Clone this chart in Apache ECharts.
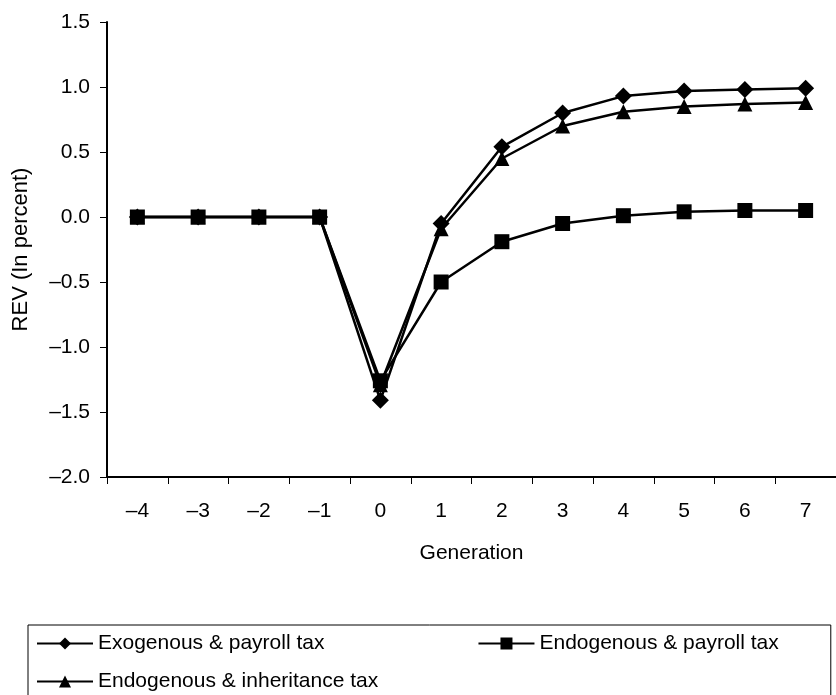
<!DOCTYPE html>
<html>
<head>
<meta charset="utf-8">
<script src="https://cdn.jsdelivr.net/npm/echarts@6/dist/echarts.min.js"></script>
<style>
  html, body { margin: 0; padding: 0; background: #fff; }
  #chart { width: 836px; height: 695px; }
</style>
</head>
<body>
<div id="chart"></div>
<script>
// generations on the x axis
const generations = ['–4', '–3', '–2', '–1', '0', '1', '2', '3', '4', '5', '6', '7']

// REV in percent
const exoPayroll = [0, 0, 0, 0, -1.41, -0.05, 0.54, 0.80, 0.93, 0.97, 0.98, 0.99]
const endoPayroll = [0, 0, 0, 0, -1.26, -0.50, -0.19, -0.05, 0.01, 0.04, 0.05, 0.05]
const endoInheritance = [0, 0, 0, 0, -1.29, -0.09, 0.45, 0.70, 0.81, 0.85, 0.87, 0.88]

const seriesNames = [
  'Exogenous & payroll tax',
  'Endogenous & payroll tax',
  'Endogenous & inheritance tax'
]

const FONT = 'Liberation Sans, Arial, sans-serif'
const ink = '#000'

const chart = echarts.init(document.getElementById('chart'))

function lineSeries(name, data, symbol, size) {
  return {
    name: name,
    type: 'line',
    data: data,
    symbol: symbol,
    symbolSize: size,
    showAllSymbol: true,
    itemStyle: { color: ink },
    lineStyle: { color: ink, width: 2.5 },
    emphasis: { disabled: true },
    animation: false
  }
}

const legendText = { fontFamily: FONT, fontSize: 21, color: ink }

chart.setOption({
  backgroundColor: '#fff',
  animation: false,
  grid: { left: 107, right: -10, top: 22, bottom: 218 },
  xAxis: {
    type: 'category',
    data: generations,
    boundaryGap: true,
    name: 'Generation',
    nameLocation: 'middle',
    nameGap: 66,
    nameTextStyle: { fontFamily: FONT, fontSize: 21, color: ink },
    axisLine: { onZero: false, lineStyle: { color: ink, width: 2 } },
    axisTick: { show: true, length: 7, lineStyle: { color: ink, width: 1 } },
    axisLabel: { margin: 24, fontFamily: FONT, fontSize: 21, color: ink },
    splitLine: { show: false }
  },
  yAxis: {
    type: 'value',
    min: -2,
    max: 1.5,
    interval: 0.5,
    name: 'REV (In percent)',
    nameLocation: 'middle',
    nameGap: 75,
    nameTextStyle: { fontFamily: FONT, fontSize: 22, color: ink },
    axisLine: { show: true, lineStyle: { color: ink, width: 2 } },
    axisTick: { show: true, length: 7, lineStyle: { color: ink, width: 1 } },
    axisLabel: {
      margin: 17,
      fontFamily: FONT,
      fontSize: 21,
      color: ink,
      formatter: v => v.toFixed(1).replace('-', '–')
    },
    splitLine: { show: false }
  },
  legend: [
    {
      data: [seriesNames[0], seriesNames[1]],
      left: 28,
      top: 625,
      orient: 'horizontal',
      padding: [8, 52, 44, 8],
      itemGap: 153,
      itemWidth: 56,
      itemHeight: 15,
      borderColor: ink,
      borderWidth: 1,
      textStyle: legendText,
      selectedMode: false
    },
    {
      data: [seriesNames[2]],
      left: 28,
      top: 671,
      padding: [0, 8],
      itemWidth: 56,
      itemHeight: 15,
      textStyle: legendText,
      selectedMode: false
    }
  ],
  series: [
    lineSeries(seriesNames[0], exoPayroll, 'diamond', 17),
    lineSeries(seriesNames[2], endoInheritance, 'triangle', 15),
    lineSeries(seriesNames[1], endoPayroll, 'rect', 15)
  ]
})
</script>
</body>
</html>
